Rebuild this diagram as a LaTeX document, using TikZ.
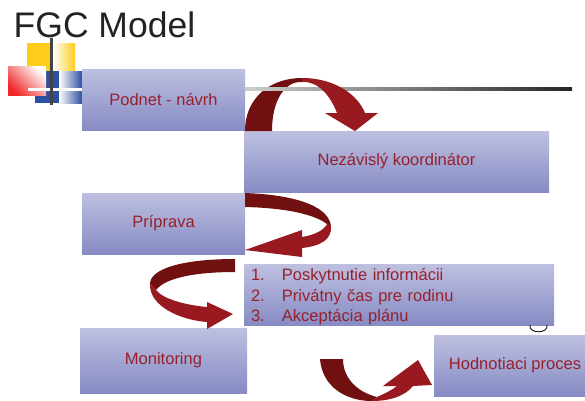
\documentclass[tikz,border=0pt]{standalone}
\usepackage{fontspec}
\setmainfont{Liberation Sans}
\usepackage{xcolor}
\usepackage{tikz}
\usetikzlibrary{positioning}
\definecolor{boxtop}{RGB}{190, 192, 224}
\definecolor{boxbottom}{RGB}{134, 139, 196}
\definecolor{labelred}{RGB}{152, 32, 44}
\definecolor{ribbondark}{RGB}{112, 16, 16}
\definecolor{ribbonbright}{RGB}{152, 26, 32}
\definecolor{decoyellow}{RGB}{255, 204, 26}
\definecolor{decoblue}{RGB}{44, 80, 160}
\definecolor{decored}{RGB}{238, 40, 40}
\definecolor{titlegray}{RGB}{35, 35, 35}
\definecolor{linegray}{RGB}{205, 208, 205}

\begin{document}
\begin{tikzpicture}[
    x=1pt, y=-1pt,
    stepbox/.style={
        rectangle, top color=boxtop, bottom color=boxbottom, text=labelred,
        minimum width=163pt, minimum height=61pt, inner sep=0pt,
        font=\fontsize{16.5}{20.5}\selectfont
    },
    ribbonshade/.style={fill=ribbondark},
    ribbonlit/.style={fill=ribbonbright}
]
\useasboundingbox (0,0) rectangle (585,400);
\clip (0,0) rectangle (585,400);

% Title
\node[font=\fontsize{35.5}{40}\selectfont, text=titlegray, anchor=base west, inner sep=0pt] (title) at (13.5,37.5) {FGC Model};

% Logo squares
\fill[decoyellow] (27,43) rectangle (53,72);
\shade[left color=white, right color=decoyellow] (53,43) rectangle (75,72);
\fill[decoblue] (35,71) rectangle (59,103);
\shade[left color=white, right color=decoblue] (59,71) rectangle (82,103);
\shade[top color=white, bottom color=decored, shading angle=-45] (8,66) rectangle (46,95);
\draw[white, line width=3pt] (28,89) -- (82,89);
\draw[titlegray!85, line width=3pt] (51,38) -- (51,105);

% Boxes
\node[stepbox] (podnet) at (163.5,99.5) {Podnet - návrh};
\node[stepbox, minimum width=305pt] (koordinator) at (396.5,161.5) {Nezávislý koordinátor};
\node[stepbox] (priprava) at (163.5,223.5) {Príprava};
\node[stepbox, minimum width=310pt] (kroky) at (399,294.5) {};
\node[text=labelred, font=\fontsize{16.5}{20.5}\selectfont, text width=296pt, align=left, inner sep=0pt] (krokytext) at (399,297)
    {\makebox[31pt][l]{1.}Poskytnutie informácii\\
     \makebox[31pt][l]{2.}Privátny čas pre rodinu\\
     \makebox[31pt][l]{3.}Akceptácia plánu};
\node[stepbox, minimum width=167pt, minimum height=65pt] (monitoring) at (163.5,360.5) {Monitoring};
\node[stepbox, minimum width=162pt] (hodnotenie) at (515,365.5) {Hodnotiaci proces};

% Arrow podnet -> koordinator
\fill[ribbonshade] (245,131) .. controls (245,98) and (270,78) .. (302,78)
    -- (302,82) .. controls (285,81) and (272,100) .. (272,131) -- cycle;
\shade[left color=linegray, right color=black!85] (245,87.5) rectangle (572,90.5);
\fill[ribbonlit] (302,78) .. controls (335,78) and (358,95) .. (365,113)
    -- (378,113) -- (355,131) -- (325,113) -- (337,113)
    .. controls (330,95) and (318,81) .. (302,82) -- cycle;

% Arrow priprava -> kroky
\fill[ribbonshade] (245,193) .. controls (300,195) and (331,208) .. (331,228)
    .. controls (322,216) and (290,208) .. (245,207) -- cycle;
\fill[ribbonlit] (331,226) .. controls (332,240) and (320,246) .. (302,248)
    -- (302,257) -- (245,250) -- (302,230) -- (302,237)
    .. controls (315,235) and (324,230) .. (327,224) -- cycle;

% Arrow priprava -> kroky (left loop)
\fill[ribbonshade] (235,259) .. controls (185,259) and (150,268) .. (150,284)
    -- (156,290) .. controls (165,278) and (195,272) .. (235,272) -- cycle;
\fill[ribbonlit] (150,284) .. controls (149,306) and (180,320) .. (207,322)
    -- (207,329) -- (233,314) -- (207,302) -- (207,307)
    .. controls (185,305) and (163,299) .. (156,290) -- cycle;

% Arrow monitoring -> hodnotenie
\fill[ribbonshade] (320,359) .. controls (322,386) and (345,401) .. (372,401)
    -- (377,397) .. controls (357,392) and (343,378) .. (343,359) -- cycle;
\fill[ribbonlit] (377,397) .. controls (386,393) and (392,390) .. (397,386)
    -- (383,386) -- (418,360) -- (432,385) -- (413,386)
    .. controls (405,396) and (390,401) .. (372,401) -- cycle;

% Smiley fragment
\draw[line width=0.8pt] (530,325) .. controls (528,334) and (549,334) .. (547,325);

\end{tikzpicture}
\end{document}
